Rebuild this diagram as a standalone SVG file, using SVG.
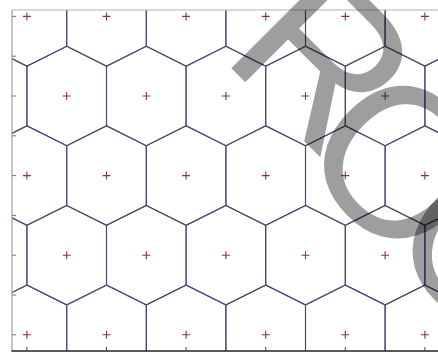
<svg xmlns="http://www.w3.org/2000/svg" xmlns:xlink="http://www.w3.org/1999/xlink" width="438" height="354" viewBox="0 0 438 354">
<style>
.cell{fill:none;stroke:#4a4a78;stroke-width:1.1}
.pt{fill:none;stroke:#8a3444;stroke-width:1.1}
.ax{stroke-width:1;fill:none}
.wm{font-family:"Liberation Sans","Arial",sans-serif;font-size:212px;fill:#000;fill-opacity:0.38}
</style>
<defs>
<polygon id="hex" points="0,-49.75 39.8,-29.85 39.8,29.85 0,49.75 -39.8,29.85 -39.8,-29.85"/>
<path id="plus" d="M-4,0H4M0,-4V4"/>
<clipPath id="plot"><rect x="12" y="10" width="426" height="341"/></clipPath>
</defs>
<rect width="438" height="354" fill="#fff"/>
<g id="cells" class="cell" clip-path="url(#plot)">
<use xlink:href="#hex" x="26.9" y="16.4"/><use xlink:href="#hex" x="106.5" y="16.4"/><use xlink:href="#hex" x="186.1" y="16.4"/><use xlink:href="#hex" x="265.7" y="16.4"/><use xlink:href="#hex" x="345.3" y="16.4"/><use xlink:href="#hex" x="424.9" y="16.4"/>
<use xlink:href="#hex" x="-12.9" y="96"/><use xlink:href="#hex" x="66.7" y="96"/><use xlink:href="#hex" x="146.3" y="96"/><use xlink:href="#hex" x="225.9" y="96"/><use xlink:href="#hex" x="305.5" y="96"/><use xlink:href="#hex" x="385.1" y="96"/><use xlink:href="#hex" x="464.7" y="96"/>
<use xlink:href="#hex" x="26.9" y="175.6"/><use xlink:href="#hex" x="106.5" y="175.6"/><use xlink:href="#hex" x="186.1" y="175.6"/><use xlink:href="#hex" x="265.7" y="175.6"/><use xlink:href="#hex" x="345.3" y="175.6"/><use xlink:href="#hex" x="424.9" y="175.6"/>
<use xlink:href="#hex" x="-12.9" y="255.2"/><use xlink:href="#hex" x="66.7" y="255.2"/><use xlink:href="#hex" x="146.3" y="255.2"/><use xlink:href="#hex" x="225.9" y="255.2"/><use xlink:href="#hex" x="305.5" y="255.2"/><use xlink:href="#hex" x="385.1" y="255.2"/><use xlink:href="#hex" x="464.7" y="255.2"/>
<use xlink:href="#hex" x="26.9" y="334.8"/><use xlink:href="#hex" x="106.5" y="334.8"/><use xlink:href="#hex" x="186.1" y="334.8"/><use xlink:href="#hex" x="265.7" y="334.8"/><use xlink:href="#hex" x="345.3" y="334.8"/><use xlink:href="#hex" x="424.9" y="334.8"/>
</g>
<g id="points" class="pt">
<use xlink:href="#plus" x="26.9" y="16.4"/><use xlink:href="#plus" x="106.5" y="16.4"/><use xlink:href="#plus" x="186.1" y="16.4"/><use xlink:href="#plus" x="265.7" y="16.4"/><use xlink:href="#plus" x="345.3" y="16.4"/><use xlink:href="#plus" x="424.9" y="16.4"/>
<use xlink:href="#plus" x="66.7" y="96"/><use xlink:href="#plus" x="146.3" y="96"/><use xlink:href="#plus" x="225.9" y="96"/><use xlink:href="#plus" x="305.5" y="96"/><use xlink:href="#plus" x="385.1" y="96"/>
<use xlink:href="#plus" x="26.9" y="175.6"/><use xlink:href="#plus" x="106.5" y="175.6"/><use xlink:href="#plus" x="186.1" y="175.6"/><use xlink:href="#plus" x="265.7" y="175.6"/><use xlink:href="#plus" x="345.3" y="175.6"/><use xlink:href="#plus" x="424.9" y="175.6"/>
<use xlink:href="#plus" x="66.7" y="255.2"/><use xlink:href="#plus" x="146.3" y="255.2"/><use xlink:href="#plus" x="225.9" y="255.2"/><use xlink:href="#plus" x="305.5" y="255.2"/><use xlink:href="#plus" x="385.1" y="255.2"/>
<use xlink:href="#plus" x="26.9" y="334.8"/><use xlink:href="#plus" x="106.5" y="334.8"/><use xlink:href="#plus" x="186.1" y="334.8"/><use xlink:href="#plus" x="265.7" y="334.8"/><use xlink:href="#plus" x="345.3" y="334.8"/><use xlink:href="#plus" x="424.9" y="334.8"/>
</g>
<g id="axes" class="ax">
<path d="M12,10H438" stroke="#b4b4b4"/>
<path d="M12,10V351" stroke="#8c8c8c"/>
<path d="M11.5,351H438" stroke="#222" stroke-width="1.4"/>
<path d="M12,16.4h4M12,56.2h4M12,96h4M12,135.8h4M12,175.6h4M12,215.4h4M12,255.2h4M12,295h4M12,334.8h4" stroke="#777"/>
<path d="M26.9,351v-4M106.5,351v-4M186.1,351v-4M265.7,351v-4M345.3,351v-4M424.9,351v-4" stroke="#444"/>
</g>
<text class="wm" transform="translate(219,56) rotate(45)">R<tspan dx="-32" dy="20">O</tspan><tspan dx="-42" dy="-2">C</tspan></text>
</svg>
